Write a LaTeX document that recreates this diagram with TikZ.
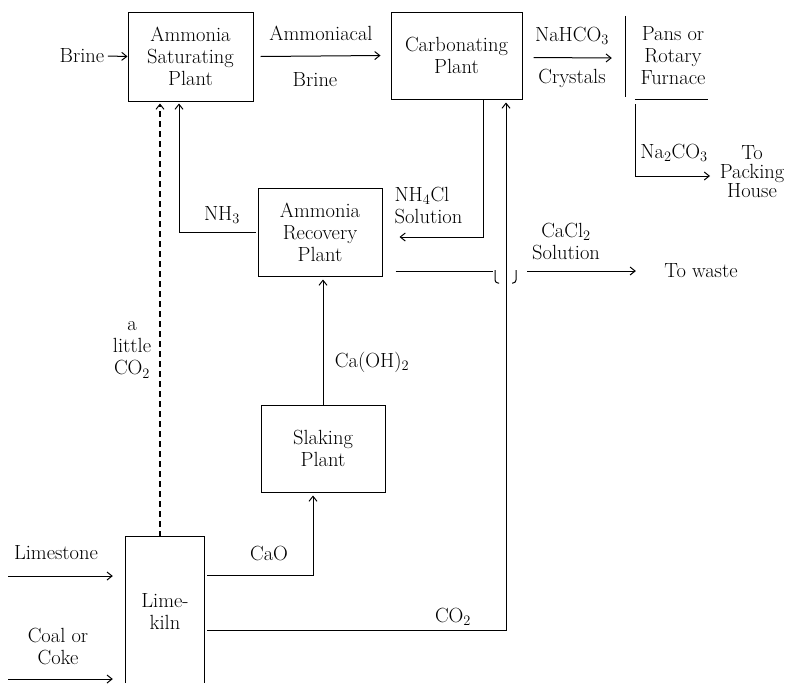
\documentclass[tikz,border=0pt]{standalone}
\usetikzlibrary{arrows.meta}
\begin{document}
\begin{tikzpicture}[x=1pt,y=-1pt,
  every node/.style={font=\fontsize{20.5}{22}\selectfont, align=center},
  box/.style={draw, line width=1pt, inner sep=0pt},
  plain/.style={inner sep=0pt},
  ln/.style={line width=1pt},
  flow/.style={line width=1pt, -{Straight Barb[length=5pt,width=8pt]}},
  dashflow/.style={line width=1.6pt, dash pattern=on 6pt off 4pt, -{Straight Barb[length=5pt,width=8pt,line width=1pt]}}
]
\useasboundingbox (0,0) rectangle (791,686);

% plants
\node[box, minimum width=125pt, minimum height=89pt] (asp) at (190.5,56.5) {Ammonia\\Saturating\\Plant};
\node[box, minimum width=131pt, minimum height=87pt] (carb) at (456.5,55.5) {Carbonating\\Plant};
\node[plain, minimum width=94pt, minimum height=86pt] (pans) at (673,56) {Pans or\\Rotary\\Furnace};
\draw[ln] ([yshift=-3pt]pans.north west) -- ([yshift=2pt]pans.south west);
\draw[ln] ([xshift=9pt]pans.south west) -- ([xshift=-12pt]pans.south east);
\node[box, minimum width=124pt, minimum height=88pt] (rec) at (320,232) {Ammonia\\Recovery\\Plant};
\node[box, minimum width=124pt, minimum height=87pt] (slak) at (323,448.5) {Slaking\\Plant};
\node[plain, minimum width=78pt, minimum height=149pt] (kiln) at (165,611.5) {Lime-\\kiln};
\draw[ln] ([yshift=3pt]kiln.south west) -- (kiln.north west) -- (kiln.north east) -- ([yshift=3pt]kiln.south east);

% labels
\node (brine) at (82,56) {Brine};
\node (ammlbl) at (321,33) {Ammoniacal};
\node (brlbl) at (315,80) {Brine};
\node (nahco) at (572,36) {NaHCO$_3$};
\node (cryst) at (572,78) {Crystals};
\node (naco) at (674,153) {Na$_2$CO$_3$};
\node[font=\fontsize{20.5}{19}\selectfont] (pack) at (752,172) {To\\Packing\\House};
\node (nh3) at (222,215) {NH$_3$};
\node[anchor=west, align=left] (nhcl) at (391,205) {NH$_4$Cl\\Solution};
\node (cacl) at (566,241) {CaCl$_2$\\Solution};
\node (waste) at (701,271) {To waste};
\node (caoh) at (372,362) {Ca(OH)$_2$};
\node (little) at (132,350) {a\\little\\CO$_2$};
\node (lime) at (56,553) {Limestone};
\node (coal) at (58,646) {Coal or\\Coke};
\node (cao) at (269,553) {CaO};
\node (co2) at (453,617) {CO$_2$};

% free ends
\coordinate (lsin) at (8,576);
\coordinate (coalin) at (8,679);
\coordinate (packend) at (710,176);
\coordinate (br) at (506,271);

% connectors
\draw[flow] (brine.east) -- (asp.west);
\draw[flow] ([xshift=7pt]asp.east) -- ([xshift=-10pt]carb.west);
\draw[flow] ([xshift=11pt,yshift=-2pt]carb.east) -- ([xshift=-14pt,yshift=-2pt]pans.west);
\draw[flow] ([xshift=10pt,yshift=-5pt]pans.south west) |- (packend);
\draw[flow, shorten <=2pt, shorten >=2pt] (rec.west) -| ([xshift=-11.5pt]asp.south);
\draw[dashflow, shorten >=2pt] ([xshift=-5pt]kiln.north) -- ([xshift=-5pt]kiln.north |- asp.south);
\draw[flow] ([xshift=26.5pt]carb.south) |- ([xshift=17pt,yshift=-5pt]rec.east);
\draw[flow, shorten <=3pt, shorten >=3pt] ([yshift=-18.5pt]kiln.east) -| ([xshift=49.5pt]carb.south);
\draw[flow, shorten <=3pt, shorten >=3pt] ([yshift=36.5pt]kiln.east) -| ([xshift=-10pt]slak.south);
\draw[flow, shorten >=3pt] (slak.north) -- (slak.north |- rec.south);
\draw[ln] ([xshift=13pt,yshift=-39pt]rec.east) -- ([xshift=-13pt]br);
\draw[ln, rounded corners=3pt] ([xshift=-11pt,yshift=1pt]br) -- ([xshift=-11pt,yshift=-12pt]br) -- ([xshift=-7pt,yshift=-12pt]br);
\draw[ln, rounded corners=3pt] ([xshift=10pt,yshift=1pt]br) -- ([xshift=10pt,yshift=-12pt]br) -- ([xshift=6pt,yshift=-12pt]br);
\draw[flow, shorten >=25pt] ([xshift=21pt]br) -- (waste.west);
\draw[flow, shorten >=13pt] (lsin) -- (lsin -| kiln.west);
\draw[flow, shorten >=13pt] (coalin) -- (coalin -| kiln.west);
\end{tikzpicture}
\end{document}
